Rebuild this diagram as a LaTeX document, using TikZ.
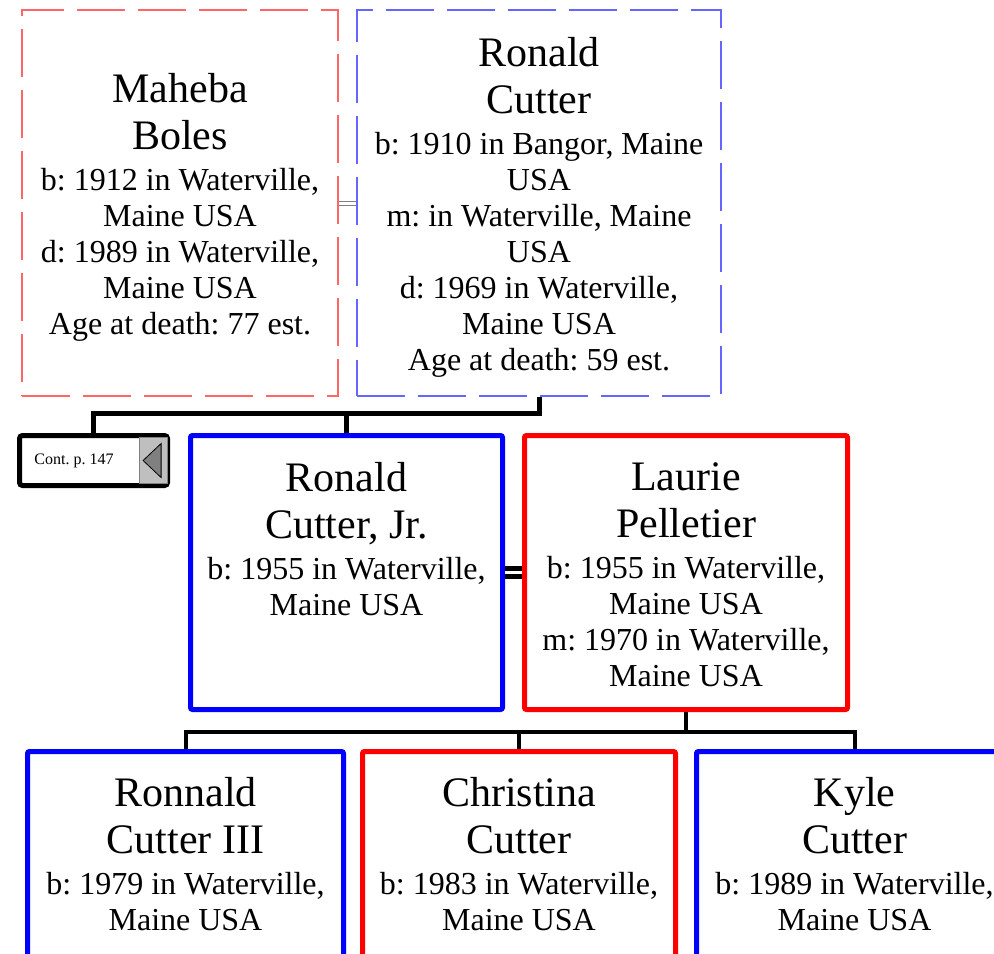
\documentclass[tikz,border=0pt]{standalone}
\usepackage{fontspec}
\setmainfont{Liberation Serif}
\frenchspacing
\setlength{\lineskiplimit}{-20pt}
\usetikzlibrary{positioning}
\newcommand{\gname}[1]{{\fontsize{21}{24}\selectfont #1}}
\tikzset{
  gbox/.style={draw,rectangle,inner sep=0pt},
  gmale/.style={gbox,draw=blue,line width=2.5pt,rounded corners=1pt},
  gfemale/.style={gbox,draw=red,line width=2.5pt,rounded corners=1pt},
  gmaleold/.style={gbox,draw=blue!60,line width=0.6pt,dash pattern=on 24pt off 6.5pt},
  gfemaleold/.style={gbox,draw=red!60,line width=0.6pt,dash pattern=on 24pt off 6.5pt},
  gtext/.style={inner sep=0pt,align=center,font=\fontsize{16}{18}\selectfont},
  gline/.style={line width=2.5pt},
  gkid/.style={line width=2pt},
  gwed/.style={double,line width=2.5pt,double distance=1.5pt},
  gwedold/.style={double,draw=gray,line width=0.5pt,double distance=1.5pt},
  gcont/.style={draw,line width=2.5pt,rounded corners=1.5pt,fill=white,
    minimum width=74pt,minimum height=25pt,inner sep=0pt},
  gbtn/.style={draw=gray,fill=black!25,minimum width=14pt,minimum height=23pt,inner sep=0pt},
}
\begin{document}
\begin{tikzpicture}[x=0.5pt,y=-0.5pt]
\clip (0,0) rectangle (994,953);
\node[gfemaleold,minimum width=158pt,minimum height=193pt] (mah) at (180,203) {};
\node[gtext] (mahtxt) at ([yshift=-2pt]mah.center)
  {\gname{Maheba}\\[5.5pt]\gname{Boles}\\[2.5pt]b: 1912 in Waterville,\\Maine USA\\d: 1989 in Waterville,\\Maine USA\\Age at death: 77 est.};
\node[gmaleold,minimum width=182pt,minimum height=193pt] (rsen) at (539,203) {};
\node[gtext] (rsentxt) at ([yshift=-2pt]rsen.center)
  {\gname{Ronald}\\[5.5pt]\gname{Cutter}\\[2.5pt]b: 1910 in Bangor, Maine\\USA\\m: in Waterville, Maine\\USA\\d: 1969 in Waterville,\\Maine USA\\Age at death: 59 est.};
\draw[gwedold] (mah.east) -- (rsen.west);

\node[gcont] (cont) at (93.5,460.5) {};
\node[gbtn,anchor=east] (btn) at ([xshift=-1.25pt]cont.east) {};
\draw[fill=gray] ([xshift=-5pt]btn.center) -- ++(9pt,8.5pt) -- ++(0,-17pt) -- cycle;
\node[inner sep=0pt,font=\fontsize{8}{9.6}\selectfont,right=8.5pt of cont.west] (conttxt) {Cont. p. 147};

\node[gmale,minimum width=156pt,minimum height=137pt] (jr) at (346.5,572.5) {};
\node[gtext,below=14.5pt of jr.north] (jrtxt)
  {\gname{Ronald}\\[5.5pt]\gname{Cutter, Jr.}\\[2.5pt]b: 1955 in Waterville,\\Maine USA};
\node[gfemale,minimum width=161.5pt,minimum height=137pt] (laurie) at (686,572.5) {};
\node[gtext,below=14.5pt of laurie.north] (laurietxt)
  {\gname{Laurie}\\[5.5pt]\gname{Pelletier}\\[2.5pt]b: 1955 in Waterville,\\Maine USA\\m: 1970 in Waterville,\\Maine USA};
\draw[gwed] (jr.east) -- (laurie.west);

\coordinate (bar1) at (0,413);
\draw[gline] (rsen.south) -- (rsen.south |- bar1) -| (cont.north);
\draw[gline] (jr.north) -- (jr.north |- bar1);

\node[gmale,minimum width=158pt,minimum height=150pt] (ron3) at (185.5,901.5) {};
\node[gtext,below=14pt of ron3.north] (ron3txt)
  {\gname{Ronnald}\\[5.5pt]\gname{Cutter III}\\[2.5pt]b: 1979 in Waterville,\\Maine USA};
\node[gfemale,minimum width=156.5pt,minimum height=150pt] (chris) at (519,901.5) {};
\node[gtext,below=14pt of chris.north] (christxt)
  {\gname{Christina}\\[5.5pt]\gname{Cutter}\\[2.5pt]b: 1983 in Waterville,\\Maine USA};
\node[gmale,minimum width=158pt,minimum height=150pt] (kyle) at (854.5,901.5) {};
\node[gtext,below=14pt of kyle.north] (kyletxt)
  {\gname{Kyle}\\[5.5pt]\gname{Cutter}\\[2.5pt]b: 1989 in Waterville,\\Maine USA};

\coordinate (bar2) at (0,732);
\draw[gkid] (laurie.south) -- (laurie.south |- bar2);
\draw[gkid] (ron3.north) |- (bar2 -| kyle.north) -- (kyle.north);
\draw[gkid] (chris.north) -- (chris.north |- bar2);
\end{tikzpicture}
\end{document}
